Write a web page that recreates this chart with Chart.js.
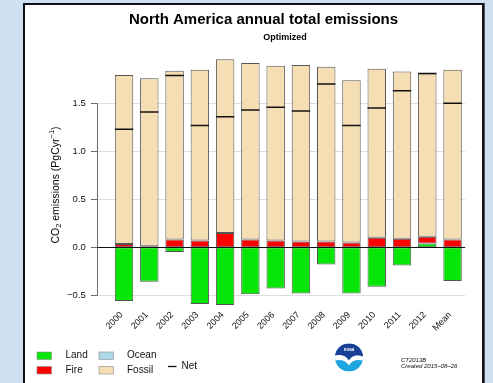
<!DOCTYPE html>
<html>
<head>
<meta charset="utf-8">
<script src="https://cdn.jsdelivr.net/npm/chart.js@4/dist/chart.umd.min.js"></script>
<style>
  html, body { margin: 0; padding: 0; width: 493px; height: 383px; overflow: hidden; background: #cfe1f1; }
  #panel { position: absolute; left: 23px; top: 3px; width: 457px; height: 400px; background: #fff;
           border: 2px solid #111; border-bottom: none; box-shadow: 1px 0 0 #555; }
  #c { position: absolute; left: 0; top: 0; }
</style>
</head>
<body>
<div id="panel"></div>
<canvas id="c" width="493" height="383"></canvas>
<script>
// North America annual total CO2 emissions (PgC/yr), CarbonTracker CT2013B, optimized fluxes
const categories = ['2000', '2001', '2002', '2003', '2004', '2005', '2006', '2007', '2008', '2009', '2010', '2011', '2012', 'Mean'];
const land   = [-0.56, -0.36, -0.05, -0.59, -0.60, -0.49, -0.43, -0.48, -0.18, -0.48, -0.41, -0.19, 0.04, -0.35];
const ocean  = [0, 0, 0, 0, 0, 0, 0, 0, 0, 0, 0, 0, 0, 0];
const fire   = [0.035, 0.01, 0.08, 0.07, 0.15, 0.08, 0.07, 0.06, 0.06, 0.05, 0.10, 0.09, 0.07, 0.08];
const fossil = [1.76, 1.75, 1.76, 1.78, 1.81, 1.84, 1.82, 1.84, 1.82, 1.69, 1.76, 1.74, 1.70, 1.77];
const net    = [1.23, 1.41, 1.79, 1.27, 1.36, 1.43, 1.46, 1.42, 1.70, 1.27, 1.45, 1.63, 1.81, 1.50];
const yTicks = [-0.5, 0.0, 0.5, 1.0, 1.5];

const FONT = '"Liberation Sans", Arial, Helvetica, sans-serif';
const COLORS = { land: '#06e606', ocean: '#add8e6', fire: '#ff0000', fossil: '#f5deb3' };
const EDGE = '#555555';
const AXIS_X = 97.5;

const fmt = v => v.toFixed(1).replace('-', '\u2212');

// R-style axis, grid lines, titles, legend and footer
const decor = {
  id: 'decor',
  beforeDatasetsDraw(chart) {
    const { ctx, chartArea, scales: { y } } = chart;
    ctx.save();
    ctx.lineWidth = 1;
    ctx.strokeStyle = '#dedede';
    yTicks.forEach(v => {
      if (v === 0) return;
      const py = Math.round(y.getPixelForValue(v)) + 0.5;
      ctx.beginPath(); ctx.moveTo(AXIS_X, py); ctx.lineTo(chartArea.right, py); ctx.stroke();
    });
    ctx.strokeStyle = '#6a6a6a';
    const top = Math.round(y.getPixelForValue(yTicks[yTicks.length - 1])) + 0.5;
    const bot = Math.round(y.getPixelForValue(yTicks[0])) + 0.5;
    ctx.beginPath(); ctx.moveTo(AXIS_X, top); ctx.lineTo(AXIS_X, bot); ctx.stroke();
    yTicks.forEach(v => {
      const py = Math.round(y.getPixelForValue(v)) + 0.5;
      ctx.beginPath(); ctx.moveTo(AXIS_X - 6.5, py); ctx.lineTo(AXIS_X, py); ctx.stroke();
    });
    ctx.restore();
  },
  afterDatasetsDraw(chart) {
    const { ctx, chartArea, scales: { y } } = chart;
    ctx.save();
    const py = Math.round(y.getPixelForValue(0)) + 0.5;
    ctx.strokeStyle = '#111'; ctx.lineWidth = 1;
    ctx.beginPath(); ctx.moveTo(AXIS_X, py); ctx.lineTo(chartArea.right, py); ctx.stroke();
    ctx.restore();
  },
  afterDraw(chart) {
    const { ctx } = chart;
    ctx.save();
    ctx.fillStyle = '#000';
    ctx.textAlign = 'center'; ctx.textBaseline = 'alphabetic';
    ctx.font = 'bold 15px ' + FONT;
    ctx.fillText('North America annual total emissions', 263.5, 23.5);
    ctx.font = 'bold 9px ' + FONT;
    ctx.fillText('Optimized', 285, 40);

    // y axis title with sub/superscripts
    ctx.save();
    ctx.translate(58.5, 185);
    ctx.rotate(-Math.PI / 2);
    const parts = [
      { t: 'CO', s: 10.5, dy: 0 }, { t: '2', s: 7.5, dy: 2.5 },
      { t: ' emissions (PgCyr', s: 10.5, dy: 0 }, { t: '\u22121', s: 7.5, dy: -5 },
      { t: ')', s: 10.5, dy: 0 }
    ];
    let total = 0;
    parts.forEach(p => { ctx.font = p.s + 'px ' + FONT; p.w = ctx.measureText(p.t).width; total += p.w; });
    let x = -total / 2;
    ctx.textAlign = 'left';
    parts.forEach(p => { ctx.font = p.s + 'px ' + FONT; ctx.fillText(p.t, x, p.dy); x += p.w; });
    ctx.restore();

    // legend
    ctx.font = '10px ' + FONT;
    ctx.textAlign = 'left'; ctx.textBaseline = 'middle';
    const items = [
      { label: 'Land', c: COLORS.land, bx: 37, tx: 65.5, y: 355.5 },
      { label: 'Fire', c: COLORS.fire, bx: 37, tx: 65.5, y: 370 },
      { label: 'Ocean', c: COLORS.ocean, bx: 99, tx: 127, y: 355.5 },
      { label: 'Fossil', c: COLORS.fossil, bx: 99, tx: 127, y: 370 }
    ];
    items.forEach(it => {
      ctx.fillStyle = it.c;
      ctx.fillRect(it.bx, it.y - 3.5, 14.5, 7.5);
      ctx.strokeStyle = '#8a8a8a'; ctx.lineWidth = 0.6;
      ctx.strokeRect(it.bx, it.y - 3.5, 14.5, 7.5);
      ctx.fillStyle = '#111';
      ctx.fillText(it.label, it.tx, it.y);
    });
    ctx.strokeStyle = '#111'; ctx.lineWidth = 1.3;
    ctx.beginPath(); ctx.moveTo(168, 366.5); ctx.lineTo(176.5, 366.5); ctx.stroke();
    ctx.fillText('Net', 181.5, 366.5);

    // NOAA emblem
    const cx = 349, cy = 357.5, r = 14;
    ctx.save();
    ctx.beginPath(); ctx.arc(cx, cy, r, 0, Math.PI * 2); ctx.clip();
    ctx.fillStyle = '#1ea6e0'; ctx.fillRect(cx - r, cy - r, 2 * r, 2 * r);
    ctx.fillStyle = '#1b3f94';
    ctx.beginPath();
    ctx.moveTo(cx - r, cy - r);
    ctx.lineTo(cx + r, cy - r);
    ctx.lineTo(cx + r, cy - 1);
    ctx.quadraticCurveTo(cx + 4, cy - 4, cx, cy + 3);
    ctx.quadraticCurveTo(cx - 5, cy - 4, cx - r, cy - 2);
    ctx.closePath(); ctx.fill();
    ctx.fillStyle = '#fff';
    ctx.beginPath();
    ctx.moveTo(cx - r, cy - 2);
    ctx.quadraticCurveTo(cx - 5, cy - 4, cx, cy + 3);
    ctx.quadraticCurveTo(cx + 4, cy - 4, cx + r, cy - 1);
    ctx.lineTo(cx + r, cy + 3);
    ctx.quadraticCurveTo(cx + 4, cy + 1, cx, cy + 8);
    ctx.quadraticCurveTo(cx - 5, cy + 1, cx - r, cy + 3);
    ctx.closePath(); ctx.fill();
    ctx.restore();
    ctx.fillStyle = '#fff';
    ctx.font = 'bold 4.5px ' + FONT;
    ctx.textAlign = 'center';
    ctx.fillText('noaa', cx, cy - 8);

    // run stamp
    ctx.fillStyle = '#111';
    ctx.textAlign = 'left'; ctx.textBaseline = 'alphabetic';
    ctx.font = 'italic 6px ' + FONT;
    ctx.fillText('CT2013B', 401, 362);
    ctx.fillText('Created 2015\u201308\u201326', 401, 367.5);
    ctx.restore();
  }
};

const barSet = (label, data, color) => ({
  type: 'bar', label, data, backgroundColor: color,
  borderColor: EDGE, borderWidth: 1, borderSkipped: false,
  categoryPercentage: 1.0, barPercentage: 0.73, order: 1
});

new Chart(document.getElementById('c'), {
  data: {
    labels: categories,
    datasets: [
      barSet('Land', land, COLORS.land),
      barSet('Ocean', ocean, COLORS.ocean),
      barSet('Fire', fire, COLORS.fire),
      barSet('Fossil', fossil, COLORS.fossil),
      {
        type: 'line', label: 'Net', data: net, showLine: false,
        pointStyle: 'line', pointRadius: 9.2, pointHoverRadius: 9.2,
        borderColor: '#111', pointBorderWidth: 1.5, order: 0
      }
    ]
  },
  plugins: [decor],
  options: {
    responsive: false,
    animation: false,
    events: [],
    layout: { padding: { left: 0, right: 27.8, top: 55.3, bottom: 0 } },
    plugins: { legend: { display: false }, tooltip: { enabled: false }, title: { display: false } },
    scales: {
      x: {
        stacked: true,
        grid: { display: false, drawTicks: false },
        border: { display: false },
        ticks: {
          autoSkip: false, minRotation: 45, maxRotation: 45, padding: 0, labelOffset: -2.5,
          color: '#111', font: { family: FONT, size: 9 }
        },
        afterFit(s) { s.height = 73.3; }
      },
      y: {
        stacked: true, min: -0.65, max: 2.0,
        grid: { display: false, drawTicks: false, tickLength: 0 },
        border: { display: false },
        afterBuildTicks(s) { s.ticks = yTicks.map(v => ({ value: v })); },
        ticks: {
          padding: 25.6, color: '#111', font: { family: FONT, size: 9.5 },
          callback: v => fmt(v)
        },
        afterFit(s) { s.width = 111.4; }
      }
    }
  }
});
</script>
</body>
</html>
